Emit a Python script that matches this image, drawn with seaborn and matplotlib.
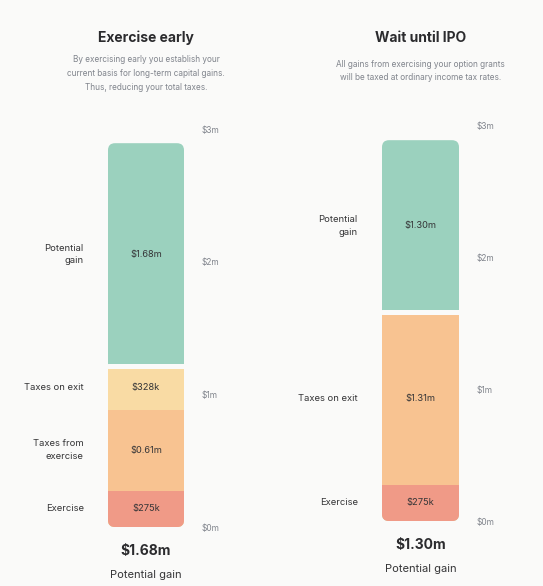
import numpy as np
import matplotlib.pyplot as plt
import seaborn as sns
from matplotlib.patches import FancyBboxPatch

panel_titles = ["Exercise early", "Wait until IPO"]
panel_notes = [
    "By exercising early you establish your\ncurrent basis for long-term capital gains.\nThus, reducing your total taxes.",
    "All gains from exercising your option grants\nwill be taxed at ordinary income tax rates.",
]

early_parts = ["Exercise", "Taxes from\nexercise", "Taxes on exit", "Potential\ngain"]
early_values = [0.275, 0.61, 0.328, 1.68]
early_text = ["$275k", "$0.61m", "$328k", "$1.68m"]
early_colors = ["#f09a87", "#f8c391", "#f9dba4", "#9bd1be"]

ipo_parts = ["Exercise", "Taxes on exit", "Potential\ngain"]
ipo_values = [0.275, 1.31, 1.30]
ipo_text = ["$275k", "$1.31m", "$1.30m"]
ipo_colors = ["#f09a87", "#f8c391", "#9bd1be"]

totals_text = ["$1.68m", "$1.30m"]
tick_values = [0, 1, 2, 3]
tick_labels = ["$0m", "$1m", "$2m", "$3m"]

bg = "#fafaf9"
dark = "#2b2b2e"
grey = "#80848c"

sns.set_theme(style="white")
plt.rcParams['font.family'] = ['Inter', 'DejaVu Sans']

W, H = 543, 586
fig = plt.figure(figsize=(W / 100, H / 100), dpi=100, facecolor=bg)

# axes boxes in pixels: left, top, right, bottom
boxes = [(108, 129, 184, 527), (382, 125, 459, 521)]
panels = [
    (early_parts, early_values, early_text, early_colors),
    (ipo_parts, ipo_values, ipo_text, ipo_colors),
]
title_y = [38, 38]
note_y = [73.5, 71]

for k, ((x0, y0, x1, y1), (parts, values, texts, colors)) in enumerate(zip(boxes, panels)):
    ax = fig.add_axes([x0 / W, (H - y1) / H, (x1 - x0) / W, (y1 - y0) / H])
    ax.set_facecolor(bg)
    cum = np.cumsum(values)

    # stacked bars: draw tallest cumulative first
    for top, col in reversed(list(zip(cum, colors))):
        sns.barplot(x=[panel_titles[k]], y=[top], color=col, saturation=1,
                    width=1, errorbar=None, ax=ax, linewidth=0)
    ax.set_xlim(-0.5, 0.5)
    ax.set_ylim(0, 3)

    # rounded outer corners
    aspect = (3 / (y1 - y0)) / (1 / (x1 - x0))
    r = 7 / (x1 - x0)
    clip = FancyBboxPatch((-0.5, 0), 1, cum[-1],
                          boxstyle=f"round,pad=0,rounding_size={r}",
                          mutation_aspect=aspect, transform=ax.transData)
    for p in ax.patches:
        p.set_clip_path(clip)

    # gap between costs and gain
    ax.axhline(cum[-2], color=bg, lw=3.6)

    for name, v, c, t in zip(parts, values, cum, texts):
        mid = c - v / 2
        ax.text(0, mid, t, ha="center", va="center", fontsize=6.7, color="#353537")
        ax.annotate(name, xy=(0, mid), xycoords=("axes fraction", "data"),
                    xytext=(-17.5, 0), textcoords="offset points",
                    ha="right", va="center", multialignment="right",
                    fontsize=6.8, color="#353537", linespacing=1.5)

    ax.yaxis.tick_right()
    ax.set_yticks(tick_values, tick_labels)
    ax.set_xticks([])
    ax.tick_params(axis="y", length=0, pad=12.5, labelsize=6, labelcolor=grey)
    ax.set_xlabel("")
    ax.set_ylabel("")
    sns.despine(ax=ax, left=True, bottom=True, right=True, top=True)

    cx = (x0 + x1) / 2 / W
    fig.text(cx, 1 - title_y[k] / H, panel_titles[k], ha="center", va="center",
             fontsize=10, fontweight="bold", color=dark)
    fig.text(cx, 1 - note_y[k] / H, panel_notes[k], ha="center", va="center",
             fontsize=5.9, color=grey, linespacing=1.65)

    ax.annotate(totals_text[k], xy=(0.5, 0), xycoords="axes fraction",
                xytext=(0, -17.5), textcoords="offset points", ha="center", va="center",
                fontsize=10, fontweight="bold", color=dark)
    ax.annotate("Potential gain", xy=(0.5, 0), xycoords="axes fraction",
                xytext=(0, -34.5), textcoords="offset points", ha="center", va="center",
                fontsize=8, color="#353537")

fig.savefig("out.png", dpi=100, facecolor=bg)
